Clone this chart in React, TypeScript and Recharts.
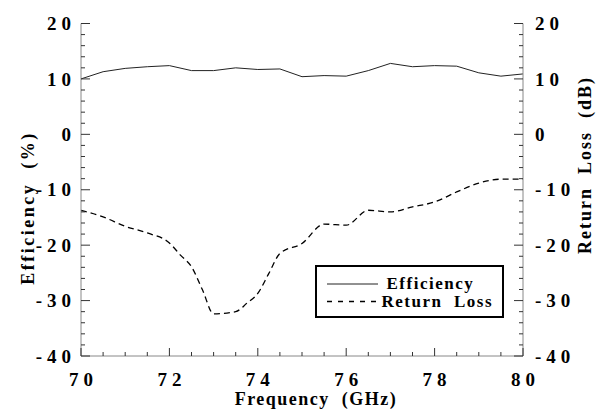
import { ComposedChart, Line, XAxis, YAxis, Legend } from "recharts";

// efficiency, sampled every 0.5 GHz
const freqEff = [70, 70.5, 71, 71.5, 72, 72.5, 73, 73.5, 74, 74.5, 75, 75.5, 76, 76.5, 77, 77.5, 78, 78.5, 79, 79.5, 80];
const efficiency = [10.0, 11.3, 11.9, 12.2, 12.4, 11.5, 11.5, 12.0, 11.7, 11.8, 10.4, 10.6, 10.5, 11.5, 12.8, 12.2, 12.4, 12.3, 11.1, 10.5, 10.9];

// return loss
const freqRL = [70, 70.5, 71, 71.5, 72, 72.25, 72.5, 72.75, 73, 73.5, 73.75, 74, 74.25, 74.5, 75, 75.5, 76, 76.5, 77, 77.5, 78, 78.5, 79, 79.5, 80];
const returnLoss = [-13.7, -14.9, -16.6, -17.8, -19.6, -21.8, -23.9, -28.1, -32.4, -32.0, -30.5, -28.7, -25.1, -21.5, -19.7, -16.2, -16.4, -13.7, -14.0, -13.1, -12.2, -10.4, -8.8, -8.1, -8.1];

const xTicks = [70, 70.5, 71, 71.5, 72, 72.5, 73, 73.5, 74, 74.5, 75, 75.5, 76, 76.5, 77, 77.5, 78, 78.5, 79, 79.5, 80];
const yTicks = [-40, -38, -36, -34, -32, -30, -28, -26, -24, -22, -20, -18, -16, -14, -12, -10, -8, -6, -4, -2, 0, 2, 4, 6, 8, 10, 12, 14, 16, 18, 20];

const effData = freqEff.map((f, i) => ({ f, v: efficiency[i] }));
const rlData = freqRL.map((f, i) => ({ f, v: returnLoss[i] }));

const FONT = "'Liberation Serif', 'Times New Roman', serif";
const LS = 5;
const tickText = { fontFamily: FONT, fontWeight: 700, fontSize: 19, letterSpacing: LS, fill: "#000" };
const TICK = "#333";

const BottomTick = ({ x, y, payload }: any) => {
  const major = payload.value % 2 === 0;
  return (
    <g>
      <line x1={x} x2={x} y1={y} y2={y - (major ? 8 : 4)} stroke={TICK} />
      {major && (
        <text x={x + LS / 2} y={y + 30} textAnchor="middle" style={tickText}>
          {payload.value}
        </text>
      )}
    </g>
  );
};

const TopTick = ({ x, y, payload }: any) => {
  const major = payload.value % 2 === 0;
  return <line x1={x} x2={x} y1={y} y2={y + (major ? 8 : 4)} stroke={TICK} />;
};

const LeftTick = ({ x, y, payload }: any) => {
  const major = payload.value % 10 === 0;
  return (
    <g>
      <line x1={x} x2={x + (major ? 9 : 4)} y1={y} y2={y} stroke={TICK} />
      {major && (
        <text x={x - 10 + LS} y={y} dy="0.35em" textAnchor="end" style={tickText}>
          {payload.value}
        </text>
      )}
    </g>
  );
};

const RightTick = ({ x, y, payload }: any) => {
  const major = payload.value % 10 === 0;
  return (
    <g>
      <line x1={x} x2={x - (major ? 9 : 4)} y1={y} y2={y} stroke={TICK} />
      {major && (
        <text x={x + 12} y={y} dy="0.35em" textAnchor="start" style={tickText}>
          {payload.value}
        </text>
      )}
    </g>
  );
};

const legendText = { fontFamily: FONT, fontWeight: 700, fontSize: 17, letterSpacing: 1.5, fill: "#000", whiteSpace: "pre" as const };

const LegendBox = () => (
  <svg width={189} height={53} style={{ display: "block" }}>
    <rect x={1} y={1} width={187} height={51} fill="#fff" stroke="#000" strokeWidth={2} />
    <line x1={12} x2={63} y1={19} y2={19} stroke="#222" strokeWidth={1} />
    <text x={71.5} y={24} style={legendText}>Efficiency</text>
    <line x1={12} x2={66} y1={36.5} y2={36.5} stroke="#000" strokeWidth={1.3} strokeDasharray="5 6" />
    <text x={66.5} y={41.5} style={legendText}>Return  Loss</text>
  </svg>
);

const titleText = { fontFamily: FONT, fontWeight: 700, fontSize: 18, fill: "#000", whiteSpace: "pre" as const };

export default function App() {
  return (
    <div style={{ position: "relative", width: 604, height: 409, background: "#fff" }}>
      <style>{"body{margin:0}"}</style>
      <ComposedChart width={604} height={409} margin={{ top: 23.5, right: 0, bottom: 0, left: 0 }}>
        <XAxis
          xAxisId="bottom"
          dataKey="f"
          type="number"
          domain={[70, 80]}
          ticks={xTicks}
          interval={0}
          height={53}
          tickSize={0}
          tickMargin={0}
          tickLine={false}
          axisLine={{ stroke: "#888" }}
          tick={BottomTick}
          allowDataOverflow
        />
        <XAxis
          xAxisId="top"
          orientation="top"
          dataKey="f"
          type="number"
          domain={[70, 80]}
          ticks={xTicks}
          interval={0}
          height={0}
          tickSize={0}
          tickMargin={0}
          tickLine={false}
          axisLine={{ stroke: "#888" }}
          tick={TopTick}
          allowDataOverflow
        />
        <YAxis
          yAxisId="left"
          type="number"
          domain={[-40, 20]}
          ticks={yTicks}
          interval={0}
          width={81}
          tickSize={0}
          tickMargin={0}
          tickLine={false}
          axisLine={{ stroke: "#888" }}
          tick={LeftTick}
          allowDataOverflow
        />
        <YAxis
          yAxisId="right"
          orientation="right"
          type="number"
          domain={[-40, 20]}
          ticks={yTicks}
          interval={0}
          width={81}
          tickSize={0}
          tickMargin={0}
          tickLine={false}
          axisLine={{ stroke: "#888" }}
          tick={RightTick}
          allowDataOverflow
        />
        <Line
          data={effData}
          dataKey="v"
          name="Efficiency"
          xAxisId="bottom"
          yAxisId="left"
          type="linear"
          stroke="#222"
          strokeWidth={1}
          dot={false}
          isAnimationActive={false}
        />
        <Line
          data={rlData}
          dataKey="v"
          name="Return Loss"
          xAxisId="bottom"
          yAxisId="right"
          type="monotone"
          stroke="#000"
          strokeWidth={1.3}
          strokeDasharray="6 4"
          dot={false}
          isAnimationActive={false}
        />
        <Legend
          layout="horizontal"
          verticalAlign="middle"
          align="center"
          content={LegendBox}
          wrapperStyle={{ position: "absolute", left: 315, top: 265, width: 189, height: 53 }}
        />
      </ComposedChart>
      <svg width={604} height={409} style={{ position: "absolute", left: 0, top: 0, pointerEvents: "none" }}>
        <text x={316} y={405} textAnchor="middle" style={{ ...titleText, letterSpacing: 1.5 }}>
          Frequency  (GHz)
        </text>
        <text
          transform="translate(28,208) rotate(-90)"
          textAnchor="middle"
          dy="0.35em"
          style={{ ...titleText, letterSpacing: 2.5 }}
        >
          Efficiency  (%)
        </text>
        <text
          transform="translate(585,165) rotate(-90)"
          textAnchor="middle"
          dy="0.35em"
          style={{ ...titleText, letterSpacing: 2 }}
        >
          Return  Loss  (dB)
        </text>
      </svg>
    </div>
  );
}
